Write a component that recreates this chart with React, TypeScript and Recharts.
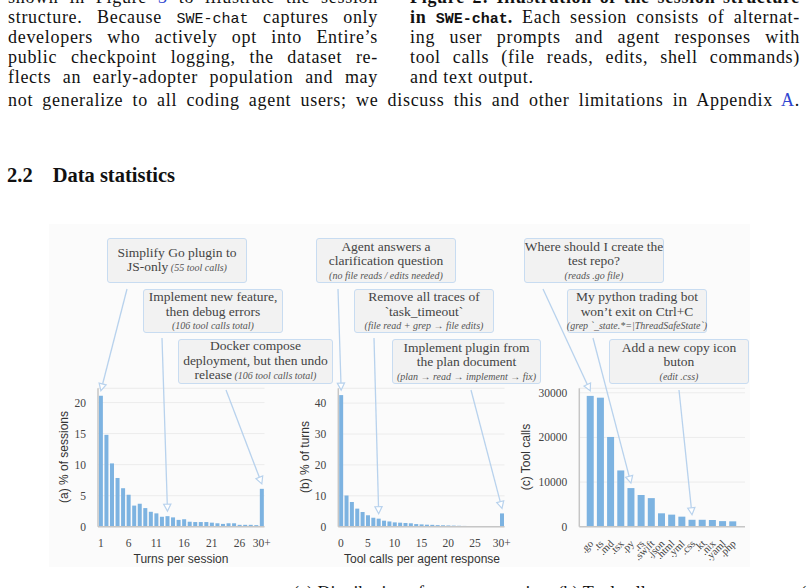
import React from 'react';
import { BarChart, Bar, XAxis, YAxis, CartesianGrid } from 'recharts';

// ---------- data ----------
const turnsCategories = ['1','2','3','4','5','6','7','8','9','10','11','12','13','14','15','16','17','18','19','20','21','22','23','24','25','26','27','28','29','30+'];
const turnsValues = [21.1,14.8,10.2,7.85,6.2,5.15,3.4,3.7,3.0,2.4,2.15,1.6,1.7,1.5,1.1,1.2,0.8,0.75,0.75,0.75,0.65,0.55,0.45,0.55,0.55,0.3,0.3,0.3,0.25,6.1];
const turnsTickLabels = ['1','6','11','16','21','26','30+'];
const turnsYTicks = [0,5,10,15,20];

const toolCallCategories = ['0','1','2','3','4','5','6','7','8','9','10','11','12','13','14','15','16','17','18','19','20','21','22','23','24','25','26','27','28','29','30+'];
const toolCallValues = [42.6,10.1,8.0,5.85,4.75,3.7,2.9,2.6,1.95,1.7,1.4,1.3,1.2,1.1,0.85,0.75,0.65,0.6,0.5,0.45,0.4,0.35,0.3,0.25,0.22,0.2,0.18,0.15,0.12,0.1,4.3];
const toolCallTickLabels = ['0','5','10','15','20','25','30+'];
const toolCallYTicks = [0,10,20,30,40];

const extCategories = ['.go','.ts','.md','.tsx','.py','.rs','.swift','.json','.html','.yml','.css','.kt','.nix','.yaml','.php'];
const extValues = [29300,28900,20100,12600,8650,7100,6400,3000,2700,2250,1550,1550,1500,1250,1200];
const extYTicks = [0,10000,20000,30000];

// ---------- styles ----------
const BAR = '#7db3e1';
const ARROW = '#b8d2ed';
const SERIF = '"Liberation Serif", "DejaVu Serif", serif';
const SANS = '"Liberation Sans", Arial, sans-serif';
const MONO = '"Liberation Mono", "DejaVu Sans Mono", monospace';
const LINK = '#3046d0';

type ArrowSpec = { category: string; sx: number; sy: number };

function ArrowMark({ sx, sy, tx, ty }: { sx: number; sy: number; tx: number; ty: number }) {
  const dx = tx - sx, dy = ty - sy;
  const len = Math.hypot(dx, dy) || 1;
  const ux = dx / len, uy = dy / len;
  const L = 7, W = 3.6;
  const bx = tx - ux * L, by = ty - uy * L;
  const nx = -uy, ny = ux;
  return (
    <g>
      <line x1={sx} y1={sy} x2={bx} y2={by} stroke={ARROW} strokeWidth={1.3} />
      <polygon
        points={`${tx},${ty} ${bx + nx * W},${by + ny * W} ${bx - nx * W},${by - ny * W}`}
        fill="#ffffff"
        stroke={ARROW}
        strokeWidth={1.2}
      />
    </g>
  );
}

const makeShape = (categories: string[], arrows: ArrowSpec[]) => (props: any) => {
  const { x, y, width, height, index, fill } = props;
  const a = arrows.find((t) => categories.indexOf(t.category) === index);
  return (
    <g>
      <rect x={x} y={y} width={width} height={Math.max(0, height)} fill={fill} />
      {a ? <ArrowMark sx={a.sx} sy={a.sy} tx={x + width / 2} ty={y - 5} /> : null}
    </g>
  );
};

const RotTick = (props: any) => {
  const { x, y, payload } = props;
  return (
    <text
      x={x + 1}
      y={y + 3}
      transform={`rotate(-45 ${x + 1} ${y + 3})`}
      textAnchor="end"
      dy="0.35em"
      fontFamily={SERIF}
      fontSize={10.5}
      fill="#444"
    >
      {payload.value}
    </text>
  );
};

type PanelProps = {
  categories: string[];
  values: number[];
  yDomain: [number, number];
  yTicks: number[];
  tickLabels?: string[];
  plotLeft: number;
  plotRight: number;
  plotTop: number;
  plotBottom: number;
  arrows: ArrowSpec[];
  rotated?: boolean;
  padL?: number;
  padR?: number;
  gap: string;
};

const YW = 40;
const XH = 50;
const W = 808;
const H = 588;

function Panel(p: PanelProps) {
  const data = p.categories.map((c, i) => ({ cat: c, value: p.values[i] }));
  const labelSet = new Set(p.tickLabels || []);
  return (
    <div style={{ position: 'absolute', left: 0, top: 0 }}>
      <BarChart
        width={W}
        height={H}
        data={data}
        barCategoryGap={p.gap}
        margin={{
          top: p.plotTop,
          left: p.plotLeft - YW,
          right: W - p.plotRight,
          bottom: H - p.plotBottom - XH,
        }}
      >
        <CartesianGrid vertical={false} stroke="#ececec" strokeWidth={1} />
        <XAxis
          dataKey="cat"
          type="category"
          interval={0}
          height={XH}
          padding={{ left: p.padL || 0, right: p.padR || 0 }}
          axisLine={{ stroke: '#c6c6c6', strokeWidth: 1.5 }}
          tickLine={false}
          tickSize={0}
          tickMargin={12}
          tick={
            p.rotated
              ? (tp: any) => <RotTick {...tp} />
              : { fontFamily: SERIF, fontSize: 11.5, fill: '#444' }
          }
          tickFormatter={p.rotated ? undefined : (v: any) => (labelSet.has(String(v)) ? String(v) : '')}
        />
        <YAxis
          type="number"
          width={YW}
          domain={p.yDomain}
          ticks={p.yTicks}
          interval={0}
          axisLine={{ stroke: '#c6c6c6', strokeWidth: 1.5 }}
          tickLine={false}
          tickSize={0}
          tickMargin={12}
          tick={{ fontFamily: SERIF, fontSize: 11.5, fill: '#444' }}
        />
        <Bar
          dataKey="value"
          fill={BAR}
          isAnimationActive={false}
          shape={makeShape(p.categories, p.arrows)}
        />
      </BarChart>
    </div>
  );
}

// ---------- annotation boxes ----------
type BoxProps = { left: number; top: number; width: number; height: number; lines: React.ReactNode[]; note: React.ReactNode; noteInline?: boolean };

function Box({ left, top, width, height, lines, note, noteInline }: BoxProps) {
  return (
    <div
      style={{
        position: 'absolute',
        left,
        top,
        width,
        height,
        boxSizing: 'border-box',
        background: '#f2f2f2',
        border: '1.5px solid #c8dcf1',
        borderRadius: 3,
        display: 'flex',
        flexDirection: 'column',
        justifyContent: 'center',
        alignItems: 'center',
        fontFamily: SERIF,
        color: '#444',
        textAlign: 'center',
        whiteSpace: 'nowrap',
      }}
    >
      {lines.map((l, i) => (
        <div key={i} style={{ fontSize: 13.5, lineHeight: '14.5px' }}>
          {l}
          {noteInline && i === lines.length - 1 ? (
            <span style={{ fontStyle: 'italic', fontSize: 10, color: '#555' }}> {note}</span>
          ) : null}
        </div>
      ))}
      {!noteInline ? (
        <div style={{ fontStyle: 'italic', fontSize: 10, lineHeight: '13px', color: '#555' }}>{note}</div>
      ) : null}
    </div>
  );
}

const Mono = ({ children, bold }: { children: React.ReactNode; bold?: boolean }) => (
  <span style={{ fontFamily: MONO, fontSize: 15, fontWeight: bold ? 700 : 400, letterSpacing: 0 }}>{children}</span>
);

function TextLine({ left, top, width, children, justify = true }: { left: number; top: number; width: number; children: React.ReactNode; justify?: boolean }) {
  return (
    <div
      style={{
        position: 'absolute',
        left,
        top,
        width,
        height: 20,
        fontFamily: SERIF,
        fontSize: 18,
        lineHeight: '20px',
        letterSpacing: 0.7,
        color: '#111',
        whiteSpace: 'nowrap',
        textAlign: justify ? 'justify' : 'left',
        textAlignLast: justify ? 'justify' : 'left',
      }}
    >
      {children}
    </div>
  );
}

const AxisTitle = ({ cx, cy, text, rotate }: { cx: number; cy: number; text: string; rotate?: boolean }) => (
  <div
    style={{
      position: 'absolute',
      left: cx,
      top: cy,
      transform: `translate(-50%, -50%)${rotate ? ' rotate(-90deg)' : ''}`,
      whiteSpace: 'nowrap',
      fontFamily: SANS,
      fontSize: 12,
      lineHeight: '14px',
      color: '#333',
    }}
  >
    {text}
  </div>
);

// arrow start points (annotation layout)
const arrowsA: ArrowSpec[] = [
  { category: '1', sx: 127, sy: 289 },
  { category: '13', sx: 162, sy: 338 },
  { category: '30+', sx: 226, sy: 390 },
];
const arrowsB: ArrowSpec[] = [
  { category: '0', sx: 338, sy: 289 },
  { category: '7', sx: 374, sy: 338 },
  { category: '30+', sx: 471, sy: 390 },
];
const arrowsC: ArrowSpec[] = [
  { category: '.go', sx: 543, sy: 289 },
  { category: '.py', sx: 593, sy: 338 },
  { category: '.css', sx: 679, sy: 390 },
];

export default function App() {
  return (
    <div style={{ position: 'absolute', left: 0, top: 0, width: W, height: H, overflow: 'hidden', background: '#fff' }}>
      {/* body text */}
      <TextLine left={8} top={-13} width={370}>
        shown in Figure <span style={{ color: LINK }}>3</span> to illustrate the session
      </TextLine>
      <TextLine left={8} top={7} width={370}>
        structure. Because <Mono>SWE-chat</Mono> captures only
      </TextLine>
      <TextLine left={8} top={27} width={370}>
        developers who actively opt into Entire’s
      </TextLine>
      <TextLine left={8} top={47} width={370}>
        public checkpoint logging, the dataset re-
      </TextLine>
      <TextLine left={8} top={67} width={370}>
        flects an early-adopter population and may
      </TextLine>

      <TextLine left={410} top={-13} width={390}>
        <b>Figure 2: Illustration of the session structure</b>
      </TextLine>
      <TextLine left={410} top={7} width={390}>
        <b>in <Mono bold>SWE-chat</Mono>.</b> Each session consists of alternat-
      </TextLine>
      <TextLine left={410} top={27} width={390}>
        ing user prompts and agent responses with
      </TextLine>
      <TextLine left={410} top={47} width={390}>
        tool calls (file reads, edits, shell commands)
      </TextLine>
      <TextLine left={410} top={67} width={390} justify={false}>
        and text output.
      </TextLine>

      <TextLine left={8} top={90} width={792}>
        not generalize to all coding agent users; we discuss this and other limitations in Appendix <span style={{ color: LINK }}>A</span>.
      </TextLine>

      {/* section heading */}
      <div style={{ position: 'absolute', left: 7, top: 164, fontFamily: SERIF, fontWeight: 700, fontSize: 20.5, lineHeight: '22px', color: '#111', whiteSpace: 'nowrap' }}>
        2.2<span style={{ display: 'inline-block', width: 20 }} />Data statistics
      </div>

      {/* figure background */}
      <div style={{ position: 'absolute', left: 49, top: 224, width: 701, height: 343, background: '#fbfbfb' }} />

      <Panel
        categories={turnsCategories}
        values={turnsValues}
        yDomain={[0, 22.3]}
        yTicks={turnsYTicks}
        tickLabels={turnsTickLabels}
        plotLeft={98}
        plotRight={264.5}
        plotTop={388.3}
        plotBottom={526.7}
        arrows={arrowsA}
        gap="16%"
      />
      <Panel
        categories={toolCallCategories}
        values={toolCallValues}
        yDomain={[0, 44.8]}
        yTicks={toolCallYTicks}
        tickLabels={toolCallTickLabels}
        plotLeft={338.3}
        plotRight={504.5}
        plotTop={388.3}
        plotBottom={526.7}
        arrows={arrowsB}
        gap="16%"
      />
      <Panel
        categories={extCategories}
        values={extValues}
        yDomain={[0, 31000]}
        yTicks={extYTicks}
        plotLeft={579.3}
        plotRight={745}
        plotTop={388.3}
        plotBottom={526.7}
        arrows={arrowsC}
        rotated
        padL={6}
        padR={7}
        gap="14%"
      />

      {/* axis titles */}
      <AxisTitle cx={64} cy={457} text="(a) % of sessions" rotate />
      <AxisTitle cx={181} cy={559} text="Turns per session" />
      <AxisTitle cx={305} cy={457} text="(b) % of turns" rotate />
      <AxisTitle cx={422} cy={559} text="Tool calls per agent response" />
      <AxisTitle cx={526} cy={457} text="(c) Tool calls" rotate />

      {/* annotation boxes */}
      <Box left={107} top={238} width={140} height={45} lines={['Simplify Go plugin to', 'JS-only']} note="(55 tool calls)" noteInline />
      <Box left={143} top={289} width={140} height={44} lines={['Implement new feature,', 'then debug errors']} note="(106 tool calls total)" />
      <Box left={178} top={339} width={155} height={45} lines={['Docker compose', 'deployment, but then undo', 'release']} note="(106 tool calls total)" noteInline />

      <Box left={316} top={238} width={140} height={45} lines={['Agent answers a', 'clarification question']} note="(no file reads / edits needed)" />
      <Box left={354} top={289} width={140} height={44} lines={['Remove all traces of', '`task_timeout`']} note="(file read + grep → file edits)" />
      <Box left={392} top={339} width={149} height={45} lines={['Implement plugin from', 'the plan document']} note="(plan → read → implement → fix)" />

      <Box left={524} top={238} width={140} height={45} lines={['Where should I create the', 'test repo?']} note="(reads .go file)" />
      <Box left={567} top={289} width={140} height={44} lines={['My python trading bot', 'won’t exit on Ctrl+C']} note="(grep `_state.*=|ThreadSafeState`)" />
      <Box left={609} top={339} width={140} height={45} lines={['Add a new copy icon', 'buton']} note="(edit .css)" />

      {/* caption start (cut off by page edge) */}
      <div style={{ position: 'absolute', left: 293, top: 583, fontFamily: SERIF, fontSize: 18, lineHeight: '20px', color: '#111', whiteSpace: 'nowrap' }}>
        (a) Distribution of turns per session. (b) Tool calls per agent response. (c) Tool calls by file type.
      </div>
    </div>
  );
}
